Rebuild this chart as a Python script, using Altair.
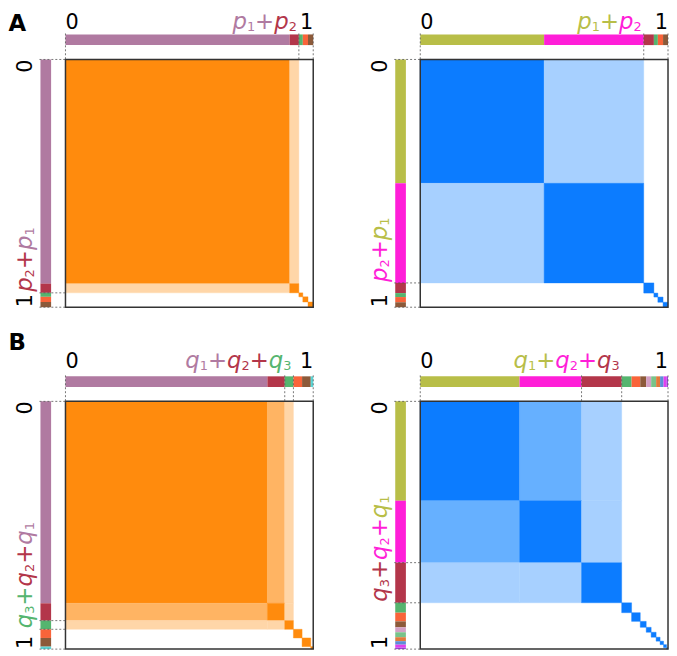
import altair as alt
import pandas as pd
import numpy as np

# ---------------- data ----------------
# Panel A (left): sizes of the ordered segments on the unit interval, colour names, merge steps, label terms
a_left_sizes = [0.905, 0.037, 0.016, 0.021, 0.021]
a_left_colors = ["purple", "crimson", "green", "vermilion", "brown"]
a_left_merges = [[0, 1]]
a_left_terms = [("p", "1", "purple"), ("p", "2", "crimson")]

# Panel A (right)
a_right_sizes = [0.500, 0.402, 0.041, 0.016, 0.021, 0.020]
a_right_colors = ["olive", "magenta", "crimson", "green", "vermilion", "brown"]
a_right_merges = [[0, 1]]
a_right_terms = [("p", "1", "olive"), ("p", "2", "magenta")]

# Panel B (left)
b_left_sizes = [0.815, 0.070, 0.035, 0.035, 0.035, 0.010]
b_left_colors = ["purple", "crimson", "green", "vermilion", "brown", "cyan"]
b_left_merges = [[0, 1], [2]]
b_left_terms = [("q", "1", "purple"), ("q", "2", "crimson"), ("q", "3", "green")]

# Panel B (right)
b_right_sizes = [0.401, 0.250, 0.162, 0.040, 0.035, 0.024, 0.020, 0.020, 0.016, 0.014, 0.012, 0.006]
b_right_colors = ["olive", "magenta", "crimson", "green", "vermilion", "brown",
                  "pink", "lightgreen", "orange", "blue", "violet", "grape"]
b_right_merges = [[0, 1], [2]]
b_right_terms = [("q", "1", "olive"), ("q", "2", "magenta"), ("q", "3", "crimson")]

axis_labels = ["0", "1"]
panel_tags = ["A", "B"]

# ---------------- styles ----------------
PALETTE = {
    "purple": "#B07AA1", "crimson": "#B3364A", "green": "#55B56F", "vermilion": "#F9643A",
    "brown": "#8C5A3A", "cyan": "#5CD6D6", "olive": "#B8BE48", "magenta": "#FF1ED8",
    "pink": "#D4A0C4", "lightgreen": "#79C38A", "orange": "#E27A3C", "blue": "#5C8ED6",
    "violet": "#E040EE", "grape": "#A040E0",
}
HEAT = {
    "orange": {"dark": "#FF8B0D", "medium": "#FFB463", "light": "#FFD6A8"},
    "blue": {"dark": "#0C7CFF", "medium": "#66B0FF", "light": "#A7D0FF"},
}
FONT = "DejaVu Sans"
DIGIT = 21
BIG = 23
SUB = 13
PX = 250.0                 # pixels per unit of the square
X_START = -0.232           # left edge of each panel in data units
ROW_TOP = [-0.196, -0.288]
TOP_BASE = [-0.124, -0.136]
LEFT_BASE = -0.136
COL_W = [358, 309]
ROW_H = [322, 324]
BAR = (-0.101, -0.058)
ADV = {"p": 0.635, "q": 0.635, "+": 0.838}


def text_w(s, size):
    return sum(ADV.get(c, 0.636) for c in s) * size / PX


def panel(sizes, colors, merges, terms, heat, xdom, ydom, w, h, top_base, tag=None):
    ends = np.cumsum(sizes)
    ends[-1] = 1.0
    starts = np.concatenate([[0.0], ends[:-1]])
    n = len(sizes)
    xs = alt.Scale(domain=list(xdom), nice=False, zero=False)
    ys = alt.Scale(domain=list(ydom), nice=False, zero=False, reverse=True)

    def X(f):
        return alt.X(f"{f}:Q", scale=xs, axis=None)

    def Y(f):
        return alt.Y(f"{f}:Q", scale=ys, axis=None)

    members = []
    cur = set()
    for m in merges:
        cur = cur | set(m)
        members.append(set(cur))
    bounds = [0.0] + [float(ends[max(s)]) for s in members] + [1.0]
    label_end = float(ends[max(members[-1])])

    cells = []
    for i in range(n):
        for j in range(n):
            if i == j:
                shade = "dark"
            else:
                shade = None
                for s, mem in enumerate(members):
                    if i in mem and j in mem:
                        shade = "light" if s == len(members) - 1 else "medium"
                        break
            if shade:
                cells.append(dict(x=starts[j], x2=ends[j], y=starts[i], y2=ends[i],
                                  c=HEAT[heat][shade]))
    cells = pd.DataFrame(cells)
    heat_layer = alt.Chart(cells).mark_rect(strokeWidth=0.4).encode(
        x=X("x"), x2="x2", y=Y("y"), y2="y2",
        color=alt.Color("c:N", scale=None), stroke=alt.Stroke("c:N", scale=None))

    border = alt.Chart(pd.DataFrame([dict(x=0.0, x2=1.0, y=0.0, y2=1.0)])).mark_rect(
        fillOpacity=0, stroke="#333333", strokeWidth=1.5).encode(
        x=X("x"), x2="x2", y=Y("y"), y2="y2")

    segs = pd.DataFrame(dict(s=starts, e=ends, c=[PALETTE[c] for c in colors],
                             b0=BAR[0], b1=BAR[1]))
    top_bar = alt.Chart(segs).mark_rect().encode(
        x=X("s"), x2="e", y=Y("b0"), y2="b1", color=alt.Color("c:N", scale=None))
    left_bar = alt.Chart(segs).mark_rect().encode(
        y=Y("s"), y2="e", x=X("b0"), x2="b1", color=alt.Color("c:N", scale=None))

    guides = pd.DataFrame(dict(p=bounds, a=BAR[0] - 0.004, z=0.0))
    vdots = alt.Chart(guides).mark_rule(color="#555555", strokeWidth=0.8,
                                        strokeDash=[2, 2]).encode(x=X("p"), y=Y("a"), y2="z")
    hdots = alt.Chart(guides).mark_rule(color="#555555", strokeWidth=0.8,
                                        strokeDash=[2, 2]).encode(y=Y("p"), x=X("a"), x2="z")

    # ---- texts ----
    rows = []
    rows.append(dict(x=0.0, y=top_base, t=axis_labels[0], c="#000000", size=DIGIT, angle=0,
                     align="left", style="normal", weight="normal"))
    rows.append(dict(x=1.0, y=top_base, t=axis_labels[1], c="#000000", size=DIGIT, angle=0,
                     align="right", style="normal", weight="normal"))
    rows.append(dict(x=LEFT_BASE, y=0.0, t=axis_labels[0], c="#000000", size=DIGIT, angle=270,
                     align="right", style="normal", weight="normal"))
    rows.append(dict(x=LEFT_BASE, y=1.0, t=axis_labels[1], c="#000000", size=DIGIT, angle=270,
                     align="left", style="normal", weight="normal"))

    def pieces(term_list):
        out = []
        for k, (letter, sub, cname) in enumerate(term_list):
            col = PALETTE[cname]
            out.append((letter, BIG, "italic", col, 0.0))
            out.append((sub, SUB, "normal", col, 2.0 / PX))
            if k < len(term_list) - 1:
                out.append(("+", BIG, "normal", col, 0.0))
        return out

    cur_x = label_end - 2.0 / PX
    for txt, sz, st, col, low in reversed(pieces(terms)):
        rows.append(dict(x=cur_x, y=top_base + low, t=txt, c=col, size=sz, angle=0,
                         align="right", style=st, weight="normal"))
        cur_x -= text_w(txt, sz)
    cur_y = label_end - 1.0 / PX
    for txt, sz, st, col, low in pieces(list(reversed(terms))):
        rows.append(dict(x=LEFT_BASE + low, y=cur_y, t=txt, c=col, size=sz, angle=270,
                         align="left", style=st, weight="normal"))
        cur_y -= text_w(txt, sz)
    if tag:
        rows.append(dict(x=xdom[0] + 0.002, y=ydom[0] + 20.0 / PX, t=tag, c="#000000", size=BIG,
                         angle=0, align="left", style="normal", weight="bold"))
    tdf = pd.DataFrame(rows)
    text_layers = []
    for (al, st, wt), g in tdf.groupby(["align", "style", "weight"]):
        text_layers.append(
            alt.Chart(g).mark_text(align=al, baseline="alphabetic", font=FONT,
                                   fontStyle=st, fontWeight=wt).encode(
                x=X("x"), y=Y("y"), text="t:N",
                color=alt.Color("c:N", scale=None),
                size=alt.Size("size:Q", scale=None),
                angle=alt.Angle("angle:Q", scale=None)))

    return alt.layer(heat_layer, border, top_bar, left_bar, vdots, hdots,
                     *text_layers).properties(width=w, height=h)


def dom_x(c):
    return (X_START, X_START + COL_W[c] / PX)


def dom_y(r):
    return (ROW_TOP[r], ROW_TOP[r] + ROW_H[r] / PX)


pa1 = panel(a_left_sizes, a_left_colors, a_left_merges, a_left_terms, "orange",
            dom_x(0), dom_y(0), COL_W[0], ROW_H[0], TOP_BASE[0], tag=panel_tags[0])
pa2 = panel(a_right_sizes, a_right_colors, a_right_merges, a_right_terms, "blue",
            dom_x(1), dom_y(0), COL_W[1], ROW_H[0], TOP_BASE[0])
pb1 = panel(b_left_sizes, b_left_colors, b_left_merges, b_left_terms, "orange",
            dom_x(0), dom_y(1), COL_W[0], ROW_H[1], TOP_BASE[1], tag=panel_tags[1])
pb2 = panel(b_right_sizes, b_right_colors, b_right_merges, b_right_terms, "blue",
            dom_x(1), dom_y(1), COL_W[1], ROW_H[1], TOP_BASE[1])

row1 = alt.hconcat(pa1, pa2, spacing=0)
row2 = alt.hconcat(pb1, pb2, spacing=0)
chart = alt.vconcat(row1, row2, spacing=0).properties(
    padding=0).configure_view(strokeWidth=0).resolve_scale(x="independent", y="independent")

chart.save("out.html", embed_options={"renderer": "svg", "actions": False})
